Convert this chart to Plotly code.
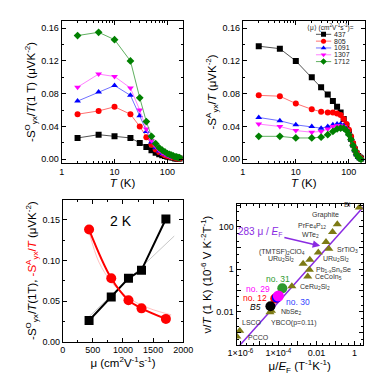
import plotly.graph_objects as go
import math

# ---------------- data ----------------
T = [2, 5, 10, 20, 30, 40, 50, 60, 70, 80, 90, 100, 110, 120, 130, 140, 150, 160, 170]
mu_labels = ["437", "805", "1091", "1307", "1712"]
mu_vals = [437, 805, 1091, 1307, 1712]

SO_437 = [0.026, 0.030, 0.028, 0.026, 0.020, 0.015, 0.011, 0.008, 0.006, 0.005, 0.004, 0.003, 0.003, 0.002, 0.002, 0.001, 0.001, 0.001, 0.001]
SO_805 = [0.055, 0.059, 0.064, 0.055, 0.040, 0.027, 0.018, 0.012, 0.009, 0.007, 0.005, 0.004, 0.003, 0.003, 0.002, 0.002, 0.001, 0.001, 0.001]
SO_1091 = [0.071, 0.082, 0.090, 0.078, 0.053, 0.034, 0.021, 0.014, 0.010, 0.007, 0.006, 0.005, 0.004, 0.003, 0.002, 0.002, 0.001, 0.001, 0.001]
SO_1307 = [0.088, 0.104, 0.101, 0.087, 0.060, 0.037, 0.023, 0.016, 0.011, 0.008, 0.006, 0.005, 0.004, 0.003, 0.003, 0.002, 0.002, 0.001, 0.001]
SO_1712 = [0.151, 0.155, 0.146, 0.120, 0.075, 0.046, 0.028, 0.019, 0.014, 0.011, 0.009, 0.007, 0.006, 0.005, 0.004, 0.003, 0.003, 0.002, 0.002]

SA_437 = [0.138, 0.135, 0.120, 0.100, 0.088, 0.079, 0.071, 0.064, 0.057, 0.049, 0.041, 0.033, 0.025, 0.018, 0.012, 0.007, 0.004, 0.002, 0.001]
SA_805 = [0.078, 0.077, 0.068, 0.061, 0.058, 0.057, 0.057, 0.056, 0.054, 0.049, 0.043, 0.036, 0.028, 0.020, 0.013, 0.008, 0.004, 0.002, 0.001]
SA_1091 = [0.051, 0.047, 0.042, 0.040, 0.038, 0.040, 0.042, 0.043, 0.043, 0.041, 0.037, 0.031, 0.024, 0.017, 0.011, 0.006, 0.003, 0.001, 0.000]
SA_1307 = [0.043, 0.040, 0.035, 0.033, 0.034, 0.037, 0.040, 0.041, 0.041, 0.040, 0.036, 0.030, 0.023, 0.016, 0.010, 0.006, 0.003, 0.001, 0.000]
SA_1712 = [0.028, 0.028, 0.026, 0.026, 0.027, 0.030, 0.034, 0.037, 0.038, 0.038, 0.035, 0.030, 0.024, 0.017, 0.011, 0.006, 0.003, 0.001, 0.000]

# 2 K values vs mobility
SO_2K = [0.026, 0.055, 0.078, 0.088, 0.151]
SA_2K = [0.138, 0.078, 0.051, 0.041, 0.028]
fitO_x = [440, 1850]
fitO_y = [0.031, 0.130]
fitA_x = [440, 600, 800, 1000, 1200, 1400, 1600, 1800]
fitA_y = [0.134, 0.098, 0.074, 0.059, 0.049, 0.042, 0.037, 0.033]

# Nernst survey
materials = ["Bi", "Graphite", "PrFe<sub>4</sub>P<sub>12</sub>", "WTe<sub>2</sub>", "SrTiO<sub>3</sub>",
             "URu<sub>2</sub>Si<sub>2</sub>", "(TMTSF)<sub>2</sub>ClO<sub>4</sub>", "URu<sub>2</sub>Si<sub>2</sub> ",
             "Pb<sub>1-x</sub>Sn<sub>x</sub>Se", "CeCoIn<sub>5</sub>", "CeRu<sub>2</sub>Si<sub>2</sub>",
             "NbSe<sub>2</sub>", "YBCO(p=0.11)", "LSCO", "PCCO"]
mat_x = [1.8, 0.126, 0.071, 0.032, 0.045, 0.0126, 0.0045, 0.002, 0.0043, 0.0035, 5.1e-4, 4.3e-5, 3.6e-5, 9.2e-7, 6.5e-7]
mat_y = [800, 132, 56, 19, 9.1, 6.2, 2.8, 1.8, 0.95, 0.45, 0.16, 0.011, 0.0095, 1.26e-3, 6.8e-4]
samples = ["no. 31", "no. 29", "no. 30", "no. 12", "B5"]
samp_x = [1.6e-4, 1.0e-4, 8.2e-5, 6.8e-5, 3.8e-5]
samp_y = [0.126, 0.055, 0.046, 0.042, 0.018]
line_coef = 283
line_x = [1e-7, 10]

# ---------------- styles ----------------
cols = ["black", "red", "blue", "magenta", "green"]
lcols = ["#555555", "#ff7070", "#7070ff", "#ff80ff", "#60b060"]
syms = ["square", "circle", "triangle-up", "triangle-down", "diamond"]
FONT = "Liberation Sans, Arial, sans-serif"

fig = go.Figure()

SO = [SO_437, SO_805, SO_1091, SO_1307, SO_1712]
SA = [SA_437, SA_805, SA_1091, SA_1307, SA_1712]
for i in range(5):
    fig.add_trace(go.Scatter(x=T, y=SO[i], mode="lines+markers", xaxis="x", yaxis="y",
                             line=dict(color=lcols[i], width=1),
                             marker=dict(symbol=syms[i], color=cols[i], size=6),
                             showlegend=False))
for i in range(5):
    fig.add_trace(go.Scatter(x=T, y=SA[i], mode="lines+markers", xaxis="x2", yaxis="y2",
                             line=dict(color=lcols[i], width=1),
                             marker=dict(symbol=syms[i], color=cols[i], size=6),
                             showlegend=False))

# manual compact legend on an overlay axis of panel 2
ann = []
leg_top = 0.905
leg_step = 0.048
for i in range(5):
    yy = leg_top - i * leg_step
    fig.add_trace(go.Scatter(x=[0.60, 0.725], y=[yy, yy], mode="lines", xaxis="x5", yaxis="y5",
                             line=dict(color=lcols[i], width=1), showlegend=False, hoverinfo="skip"))
    fig.add_trace(go.Scatter(x=[0.662], y=[yy], mode="markers", xaxis="x5", yaxis="y5",
                             marker=dict(symbol=syms[i], color=cols[i], size=5), showlegend=False, hoverinfo="skip"))
    ann.append(dict(x=0.735, y=yy, xref="x5", yref="y5", text=mu_labels[i], showarrow=False,
                    xanchor="left", yanchor="middle", font=dict(size=7, color="#222", family=FONT)))
ann.append(dict(x=0.72, y=leg_top + 0.05, xref="x5", yref="y5",
                text="⟨μ⟩ (cm<sup>2</sup>V<sup>-1</sup>s<sup>-1</sup>)=", showarrow=False,
                xanchor="center", yanchor="middle", font=dict(size=6.5, color="#222", family=FONT)))

# panel 3
fig.add_trace(go.Scatter(x=fitO_x, y=fitO_y, mode="lines", xaxis="x3", yaxis="y3",
                         line=dict(color="#c8c8c8", width=1), showlegend=False))
fig.add_trace(go.Scatter(x=fitA_x, y=fitA_y, mode="lines", xaxis="x3", yaxis="y3", line_shape="spline",
                         line=dict(color="#ffc0c0", width=1), showlegend=False))
fig.add_trace(go.Scatter(x=mu_vals, y=SO_2K, mode="lines+markers", xaxis="x3", yaxis="y3",
                         line=dict(color="black", width=2),
                         marker=dict(symbol="square", color="black", size=9), showlegend=False))
fig.add_trace(go.Scatter(x=mu_vals, y=SA_2K, mode="lines+markers", xaxis="x3", yaxis="y3",
                         line=dict(color="red", width=2, shape="spline"),
                         marker=dict(symbol="circle", color="red", size=10), showlegend=False))

# panel 4
fig.add_trace(go.Scatter(x=line_x, y=[line_coef * v for v in line_x], mode="lines", xaxis="x4", yaxis="y4",
                         line=dict(color="#8a2be2", width=1.5), showlegend=False))
fig.add_trace(go.Scatter(x=mat_x, y=mat_y, mode="markers", xaxis="x4", yaxis="y4",
                         marker=dict(symbol="triangle-up", color="#7d7a14", size=8), showlegend=False))
samp_cols = ["#2e9a2e", "magenta", "blue", "red", "black"]
samp_sizes = [10, 11, 10, 10, 10]
order = [0, 3, 2, 1, 4]
for k in order:
    fig.add_trace(go.Scatter(x=[samp_x[k]], y=[samp_y[k]], mode="markers", xaxis="x4", yaxis="y4",
                             marker=dict(symbol="circle", color=samp_cols[k], size=samp_sizes[k]),
                             showlegend=False))

mat_off = [("right", -6, 3), ("center", -12, 9), ("right", -5, 6), ("right", -5, 7), ("left", 6, -1),
           ("left", 3, -7), ("right", -3, 8), ("right", -5, 5), ("left", 5, 0), ("left", 5, 0),
           ("left", 6, -1), ("left", 8, -1), ("left", -1, -11), ("left", 0, 8), ("left", 9, -1)]
for name, x, y, (xa, xs, ys) in zip(materials, mat_x, mat_y, mat_off):
    ann.append(dict(x=math.log10(x), y=math.log10(y), xref="x4", yref="y4", text=name, showarrow=False,
                    xanchor=xa, yanchor="middle", xshift=xs, yshift=ys,
                    font=dict(size=7, color="#333333", family=FONT)))
samp_off = [("center", -4, 9), ("right", -6, 7), ("left", 7, -4), ("right", -6, 0), ("right", -7, -1)]
samp_txt_cols = ["#2e9a2e", "magenta", "#3344ff", "red", "black"]
for name, x, y, (xa, xs, ys), c in zip(samples, samp_x, samp_y, samp_off, samp_txt_cols):
    txt = "<i>" + name + "</i>" if name == "B5" else name
    ann.append(dict(x=math.log10(x), y=math.log10(y), xref="x4", yref="y4", text=txt, showarrow=False,
                    xanchor=xa, yanchor="middle", xshift=xs, yshift=ys,
                    font=dict(size=8.5, color=c, family=FONT)))
ann.append(dict(x=-1.8, y=1.1, xref="x4", yref="y4", ax=-4.95, ay=1.75, axref="x4", ayref="y4",
                text="283 μ / <i>E</i><sub>F</sub>", showarrow=True, arrowhead=2, arrowsize=1,
                arrowwidth=1.5, arrowcolor="#8a2be2", font=dict(size=10, color="#8a2be2", family=FONT)))
ann.append(dict(x=960, y=0.148, xref="x3", yref="y3", text="2 K", showarrow=False,
                font=dict(size=14, color="black", family=FONT)))

fig.update_layout(annotations=ann)

axis_common = dict(showline=True, linecolor="black", linewidth=1, mirror="ticks", ticks="inside",
                   ticklen=4, tickcolor="black", showgrid=False, zeroline=False,
                   tickfont=dict(size=9, family=FONT, color="black"))
title_font = dict(size=11.5, family=FONT, color="black")

fig.update_layout(
    width=382, height=382, margin=dict(l=0, r=0, t=0, b=0),
    paper_bgcolor="white", plot_bgcolor="white",
    font=dict(family=FONT), showlegend=False,
    xaxis=dict(domain=[0.123, 0.458], anchor="y", type="log", range=[0, 2.3],
               tickvals=[1, 10, 100], ticktext=["1", "10", "100"],
               minor=dict(ticks="inside", ticklen=2, tickcolor="black", dtick="D1"),
               title=dict(text="<i>T</i> (K)", font=title_font, standoff=0), **axis_common),
    yaxis=dict(domain=[0.589, 0.966], anchor="x", range=[-0.0045, 0.169], tickvals=[0, 0.04, 0.08, 0.12, 0.16],
               tickformat=".2f",
               minor=dict(ticks="inside", ticklen=2, tickcolor="black", dtick=0.02),
               title=dict(text="-S<sup>O</sup><sub>yx</sub>/<i>T</i>(1 T) (μVK<sup>-2</sup>)", font=title_font, standoff=3),
               **axis_common),
    xaxis2=dict(domain=[0.622, 0.958], anchor="y2", type="log", range=[0, 2.3],
                tickvals=[1, 10, 100], ticktext=["1", "10", "100"],
                minor=dict(ticks="inside", ticklen=2, tickcolor="black", dtick="D1"),
                title=dict(text="<i>T</i> (K)", font=title_font, standoff=0), **axis_common),
    yaxis2=dict(domain=[0.589, 0.966], anchor="x2", range=[-0.0045, 0.169], tickvals=[0, 0.04, 0.08, 0.12, 0.16],
                tickformat=".2f",
                minor=dict(ticks="inside", ticklen=2, tickcolor="black", dtick=0.02),
                title=dict(text="-S<sup>A</sup><sub>yx</sub>/<i>T</i> (μVK<sup>-2</sup>)", font=title_font, standoff=3),
                **axis_common),
    xaxis5=dict(domain=[0.622, 0.958], anchor="y5", range=[0, 1], visible=False, overlaying="x2"),
    yaxis5=dict(domain=[0.589, 0.966], anchor="x5", range=[0, 1], visible=False, overlaying="y2"),
    xaxis3=dict(domain=[0.126, 0.458], anchor="y3", range=[0, 2000], tickvals=[0, 500, 1000, 1500, 2000],
                minor=dict(ticks="inside", ticklen=2, tickcolor="black", dtick=250),
                title=dict(text="μ (cm<sup>2</sup>V<sup>-1</sup>s<sup>-1</sup>)", font=title_font, standoff=3),
                **axis_common),
    yaxis3=dict(domain=[0.115, 0.492], anchor="x3", range=[0, 0.175], tickvals=[0, 0.05, 0.10, 0.15],
                tickformat=".2f",
                minor=dict(ticks="inside", ticklen=2, tickcolor="black", dtick=0.025),
                title=dict(text="-S<sup>O</sup><sub>yx</sub>/<i>T</i>(1T), <span style='color:red'>-S<sup>A</sup><sub>yx</sub>/<i>T</i></span> (μVK<sup>-2</sup>)",
                           font=title_font, standoff=3),
                **axis_common),
    xaxis4=dict(domain=[0.605, 0.953], anchor="y4", type="log", range=[-6.2, 0.45],
                tickvals=[1e-6, 1e-5, 1e-4, 1e-3, 1e-2, 1e-1, 1],
                ticktext=["1×10<sup>-6</sup>", "", "1×10<sup>-4</sup>", "", "0.01", "", "1"],
                minor=dict(ticks="inside", ticklen=2, tickcolor="black", dtick="D2"),
                title=dict(text="μ/<i>E</i><sub>F</sub> (T<sup>-1</sup>K<sup>-1</sup>)", font=title_font, standoff=3),
                **axis_common),
    yaxis4=dict(domain=[0.107, 0.479], anchor="x4", type="log", range=[-3.55, 3.05],
                tickvals=[1e-3, 1e-2, 1e-1, 1, 10, 100, 1000],
                ticktext=["", "0.01", "", "1", "", "100", ""],
                minor=dict(ticks="inside", ticklen=2, tickcolor="black", dtick="D2"),
                title=dict(text="ν/<i>T</i> (1 K) (10<sup>-6</sup> V K<sup>-2</sup>T<sup>-1</sup>)", font=title_font, standoff=2),
                **axis_common),
)

fig.write_html("out.html")
